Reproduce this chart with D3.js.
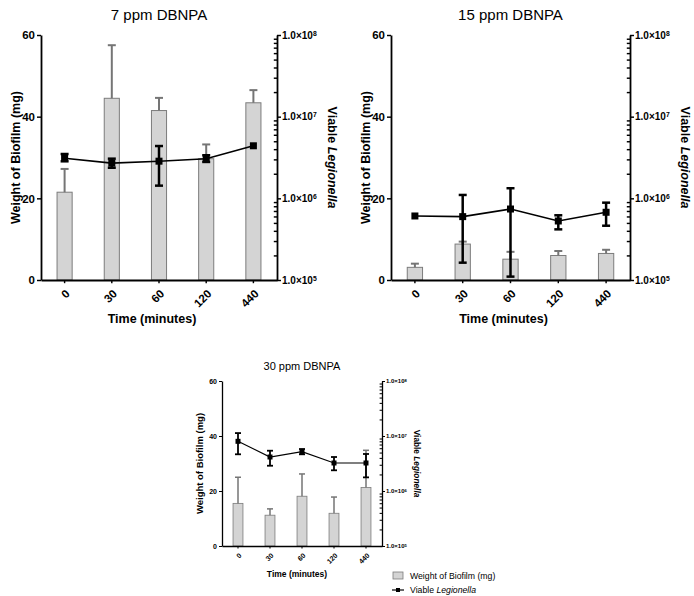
<!DOCTYPE html>
<html><head><meta charset="utf-8">
<script src="https://cdn.jsdelivr.net/npm/d3@7"></script>
<style>body{margin:0;background:#fff} svg{display:block;font-family:"Liberation Sans",Arial,Helvetica,sans-serif}</style>
</head><body>
<svg id="c" width="694" height="596"></svg>
<script>
// ---- data ----
const categories = ["0", "30", "60", "120", "440"];
const titles = ["7 ppm DBNPA", "15 ppm DBNPA", "30 ppm DBNPA"];
const leftTicks = [0, 20, 40, 60];
const rightTicks = [1e5, 1e6, 1e7, 1e8];

const biofilm7 = [21.5, 44.5, 41.5, 29.7, 43.4];
const biofilm7Err = [5.7, 13.0, 3.1, 3.5, 3.1];
const legion7 = [3.1e6, 2.7e6, 2.85e6, 3.05e6, 4.4e6];
const legion7Lo = [2.84e6, 2.37e6, 1.43e6, 2.79e6, 4.4e6];
const legion7Hi = [3.49e6, 3.06e6, 4.37e6, 3.37e6, 4.4e6];

const biofilm15 = [3.1, 8.8, 5.1, 6.0, 6.5];
const biofilm15Err = [0.9, 0.6, 1.8, 1.1, 0.9];
const legion15 = [6.08e5, 5.97e5, 7.4e5, 5.28e5, 6.75e5];
const legion15Lo = [6.08e5, 1.63e5, 1.1e5, 4.17e5, 4.62e5];
const legion15Hi = [6.08e5, 1.1e6, 1.33e6, 6.2e5, 8.85e5];

const biofilm30 = [15.5, 11.2, 18.1, 11.9, 21.3];
const biofilm30Err = [9.5, 2.3, 8.1, 5.9, 13.5];
const legion30 = [8.0e6, 4.15e6, 5.19e6, 3.23e6, 3.23e6];
const legion30Lo = [4.65e6, 2.88e6, 4.65e6, 2.38e6, 1.77e6];
const legion30Hi = [1.13e7, 5.4e6, 5.8e6, 4.15e6, 4.71e6];

const legendLabels = ["Weight of Biofilm (mg)", "Viable ", "Legionella"];

// ---- drawing ----
const svg = d3.select("#c");
const BAR_FILL = "#d4d4d4", BAR_STROKE = "#7c7c7c", ERR_GRAY = "#757575";

function panel(o) {
  const g = svg.append("g");
  const x = d3.scaleBand().domain(categories).range([o.x0, o.x1]).paddingInner(o.pad).paddingOuter(o.pad / 2);
  const y = d3.scaleLinear().domain([0, 60]).range([o.yb, o.yt]);
  const yl = d3.scaleLog().domain([1e5, 1e8]).range([o.yb, o.yt]);
  const idx = categories.map((c, i) => i);
  const cx = i => x(categories[i]) + x.bandwidth() / 2;

  // bars
  g.selectAll("rect.bar").data(idx).join("rect")
    .attr("x", i => x(categories[i])).attr("width", x.bandwidth())
    .attr("y", i => y(o.bars[i])).attr("height", i => y(0) - y(o.bars[i]))
    .attr("fill", BAR_FILL).attr("stroke", BAR_STROKE).attr("stroke-width", o.bsw);
  // bar errors (upward)
  const be = g.selectAll("g.be").data(idx).join("g");
  be.append("line").attr("x1", cx).attr("x2", cx)
    .attr("y1", i => y(o.bars[i])).attr("y2", i => y(o.bars[i] + o.barErr[i]))
    .attr("stroke", ERR_GRAY).attr("stroke-width", o.esw);
  be.append("line").attr("x1", i => cx(i) - o.cap / 2).attr("x2", i => cx(i) + o.cap / 2)
    .attr("y1", i => y(o.bars[i] + o.barErr[i])).attr("y2", i => y(o.bars[i] + o.barErr[i]))
    .attr("stroke", ERR_GRAY).attr("stroke-width", o.esw);

  // line errors
  const le = g.selectAll("g.le").data(idx.filter(i => o.hi[i] > o.lo[i])).join("g");
  le.append("line").attr("x1", cx).attr("x2", cx)
    .attr("y1", i => yl(o.lo[i])).attr("y2", i => yl(o.hi[i]))
    .attr("stroke", "#000").attr("stroke-width", o.lsw);
  ["lo", "hi"].forEach(k => le.append("line")
    .attr("x1", i => cx(i) - o.lcap / 2).attr("x2", i => cx(i) + o.lcap / 2)
    .attr("y1", i => yl(o[k][i])).attr("y2", i => yl(o[k][i]))
    .attr("stroke", "#000").attr("stroke-width", o.lsw));

  // line
  g.append("path").datum(idx)
    .attr("d", d3.line().x(cx).y(i => yl(o.line[i])))
    .attr("fill", "none").attr("stroke", "#000").attr("stroke-width", o.linew);
  g.selectAll("rect.mk").data(idx).join("rect")
    .attr("x", i => cx(i) - o.mk / 2).attr("y", i => yl(o.line[i]) - o.mk / 2)
    .attr("width", o.mk).attr("height", o.mk).attr("fill", "#000");

  // left axis
  const la = g.append("g").attr("transform", `translate(${o.x0},0)`)
    .call(d3.axisLeft(y).tickValues(leftTicks).tickSize(o.tk).tickSizeOuter(0).tickPadding(2));
  la.selectAll("text").attr("font-size", o.fTick).attr("font-weight", "bold").attr("fill", "#000")
    .attr("font-family", "Liberation Sans, Arial, sans-serif");

  // right axis
  const ra = g.append("g").attr("transform", `translate(${o.x1},0)`)
    .call(d3.axisRight(yl).tickValues(rightTicks).tickSize(o.tk).tickSizeOuter(0).tickPadding(1).tickFormat(() => ""));
  ra.selectAll(".tick text").each(function (d) {
    const t = d3.select(this);
    t.text("1.0×10").attr("font-size", o.fRTick).attr("font-weight", "bold").attr("fill", "#000")
      .attr("font-family", "Liberation Sans, Arial, sans-serif");
    t.append("tspan").attr("dy", "-0.45em").attr("font-size", o.fRTick * 0.68).text(Math.round(Math.log10(d)));
  });
  const minor = [];
  for (let e = 5; e < 8; e++) for (let m = 2; m <= 9; m++) minor.push(m * Math.pow(10, e));
  g.append("g").attr("transform", `translate(${o.x1},0)`)
    .call(d3.axisRight(yl).tickValues(minor).tickSize(-o.tk * 0.8).tickSizeOuter(0).tickFormat(() => ""))
    .call(a => a.select(".domain").remove());

  // bottom axis
  const ba = g.append("g").attr("transform", `translate(0,${o.yb})`)
    .call(d3.axisBottom(x).tickSize(o.tk * 0.8).tickSizeOuter(0));
  ba.selectAll("text").attr("font-size", o.fTick).attr("font-weight", "bold").attr("fill", "#000")
    .attr("font-family", "Liberation Sans, Arial, sans-serif")
    .attr("text-anchor", "end").attr("y", 0).attr("dy", 0)
    .attr("transform", `translate(${o.xlx},${o.xly}) rotate(-45)`);
  [la, ra, ba].forEach(a => a.selectAll(".domain, line").attr("stroke", "#000").attr("stroke-width", o.asw));
  g.selectAll("g.tick line").attr("stroke", "#000").attr("stroke-width", o.asw * 0.8);

  // titles
  g.append("text").attr("x", (o.x0 + o.x1) / 2).attr("y", o.titleY).attr("text-anchor", "middle")
    .attr("font-size", o.fTitle).text(o.title);
  g.append("text").attr("transform", `translate(${o.x0 + o.ylOff},${(o.yt + o.yb) / 2}) rotate(-90)`)
    .attr("text-anchor", "middle").attr("font-size", o.fAxis).attr("font-weight", "bold").text("Weight of Biofilm (mg)");
  const rt = g.append("text").attr("transform", `translate(${o.x1 + o.yrOff},${(o.yt + o.yb) / 2}) rotate(90)`)
    .attr("text-anchor", "middle").attr("font-size", o.fRAxis).attr("font-weight", "bold");
  rt.append("tspan").text("Viable ");
  rt.append("tspan").attr("font-style", "italic").text("Legionella");
  g.append("text").attr("x", (o.x0 + o.x1) / 2 + o.xtOff).attr("y", o.xtY).attr("text-anchor", "middle")
    .attr("font-size", o.fXAxis).attr("font-weight", "bold").text("Time (minutes)");
}

const big = {pad: 0.68, bsw: 1, esw: 2, cap: 8, lsw: 2.5, lcap: 8, linew: 1.6, mk: 7, tk: 4, asw: 1.8,
  fTick: 11.5, fRTick: 10, fTitle: 15, fAxis: 12.5, fRAxis: 12.5, fXAxis: 12.5,
  yt: 35, yb: 280, titleY: 20, ylOff: -21.5, yrOff: 50.5, xlx: 6, xly: 14.5, xtOff: -7, xtY: 323};

panel(Object.assign({}, big, {x0: 41, x1: 277, title: titles[0], bars: biofilm7, barErr: biofilm7Err,
  line: legion7, lo: legion7Lo, hi: legion7Hi}));
panel(Object.assign({}, big, {x0: 391, x1: 630, title: titles[1], bars: biofilm15, barErr: biofilm15Err,
  line: legion15, lo: legion15Lo, hi: legion15Hi}));
panel({pad: 0.69, bsw: 0.8, esw: 1.5, cap: 6, lsw: 1.8, lcap: 6, linew: 1.2, mk: 5, tk: 3, asw: 1.3,
  fTick: 7, fRTick: 6, fTitle: 11, fAxis: 9.5, fRAxis: 8.3, fXAxis: 8.5,
  yt: 381, yb: 546, titleY: 369.5, ylOff: -19.5, yrOff: 31.5, xlx: 4, xly: 10, xtOff: -5, xtY: 577,
  x0: 222, x1: 382, title: titles[2], bars: biofilm30, barErr: biofilm30Err,
  line: legion30, lo: legion30Lo, hi: legion30Hi});

// legend
const lg = svg.append("g");
lg.append("rect").attr("x", 393).attr("y", 572).attr("width", 10).attr("height", 7)
  .attr("fill", BAR_FILL).attr("stroke", BAR_STROKE).attr("stroke-width", 0.8);
lg.append("text").attr("x", 410).attr("y", 579).attr("font-size", 8.7).text(legendLabels[0]);
lg.append("line").attr("x1", 392).attr("x2", 404).attr("y1", 590).attr("y2", 590).attr("stroke", "#000").attr("stroke-width", 1.2);
lg.append("rect").attr("x", 396).attr("y", 588).attr("width", 4).attr("height", 4).attr("fill", "#000");
const lt = lg.append("text").attr("x", 410).attr("y", 593).attr("font-size", 8.7);
lt.append("tspan").text(legendLabels[1]);
lt.append("tspan").attr("font-style", "italic").text(legendLabels[2]);
</script>
</body></html>
